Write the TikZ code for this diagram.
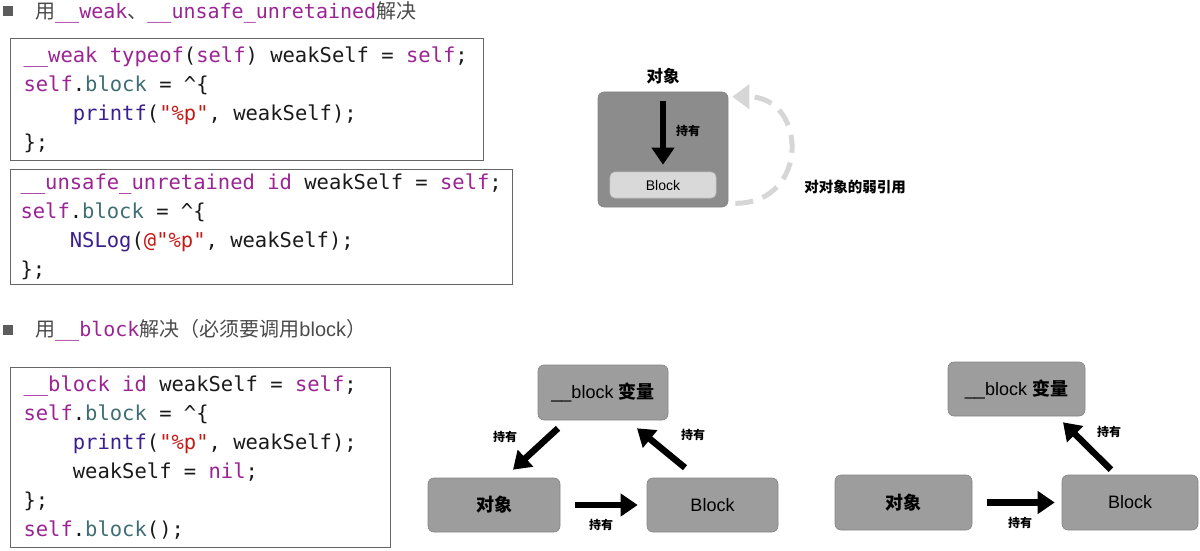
\documentclass[tikz,border=0pt]{standalone}
\usepackage{fontspec}
\setmainfont{Liberation Sans}
\setmonofont{DejaVu Sans Mono}
\newfontfamily\cjk{Noto Sans CJK SC}
\usepackage{xcolor}
\usetikzlibrary{arrows.meta,positioning}
\definecolor{kwpurple}{HTML}{9B2393}
\definecolor{prjteal}{HTML}{3E6D74}
\definecolor{fnindigo}{HTML}{3A1F8E}
\definecolor{strred}{HTML}{C41A16}
\definecolor{plain}{HTML}{1A1A1A}
\definecolor{hdrgray}{HTML}{4A4A4A}
\definecolor{boxgray}{HTML}{9D9D9D}
\definecolor{objgray}{HTML}{8C8C8C}
\definecolor{blkgray}{HTML}{D9D9D9}
\definecolor{weakgray}{HTML}{D6D6D6}
\newcommand\kw[1]{\textcolor{kwpurple}{#1}}
\newcommand\prj[1]{\textcolor{prjteal}{#1}}
\newcommand\cfn[1]{\textcolor{fnindigo}{#1}}
\newcommand\cstr[1]{\textcolor{strred}{#1}}
\newcommand\ind{\phantom{xxxx}}
\newcommand\codefont{\ttfamily\fontsize{20.5}{29}\selectfont}

\begin{document}
\begin{tikzpicture}[x=1pt,y=-1pt,
  every node/.style={inner sep=0pt},
  head/.style={anchor=west,text=hdrgray,font=\fontsize{20}{24}\selectfont},
  bullet/.style={fill=hdrgray!90,minimum size=10pt},
  codebox/.style={draw=black!60,line width=1pt,anchor=north west,align=left,inner xsep=13pt,text=plain,font=\codefont,
    execute at begin node={\spaceskip=0.602em\relax\xspaceskip=0.602em\relax}},
  dbox/.style={fill=boxgray,draw=boxgray!85!black,line width=0.6pt,rounded corners=6pt,font=\fontsize{18}{20}\selectfont},
  cn/.style={font=\cjk\bfseries\fontsize{#1}{#1}\selectfont},
  hold/.style={line width=6.5pt,-{Triangle[length=17pt,width=22pt]}},
  weak/.style={draw=weakgray,line width=5pt,dash pattern=on 18pt off 10pt,-{Triangle[length=17pt,width=24pt,fill=weakgray]}}]
\useasboundingbox (0,0) rectangle (1200,551);

% headers
\node[bullet] (b1) at (8,11.5) {};
\node[head] (h1) at (35,12) {{\cjk 用}\kw{\ttfamily\_\_weak}{\cjk 、}\kw{\ttfamily\_\_unsafe\_unretained}{\cjk 解决}};
\node[bullet] (b2) at (8,329.5) {};
\node[head] (h2) at (35,330) {{\cjk 用}\kw{\ttfamily\_\_block}{\cjk 解决（必须要调用}block{\cjk ）}};

% code
\node[codebox,text width=447pt,minimum height=122pt] (code1) at (10,38) {%
\kw{\_\_weak typeof}(\kw{self}) weakSelf = \kw{self};\\
\kw{self}.\prj{block} = \textasciicircum\{\\
\ind\cfn{printf}(\cstr{"\%p"}, weakSelf);\\
\};};
\node[codebox,inner xsep=10pt,text width=482pt,minimum height=115pt] (code2) at (10,169) {%
\kw{\_\_unsafe\_unretained id} weakSelf = \kw{self};\\
\kw{self}.\prj{block} = \textasciicircum\{\\
\ind\cfn{NSLog}(\cstr{@"\%p"}, weakSelf);\\
\};};
\node[codebox,text width=354pt,minimum height=180pt] (code3) at (10,367) {%
\kw{\_\_block id} weakSelf = \kw{self};\\
\kw{self}.\prj{block} = \textasciicircum\{\\
\ind\cfn{printf}(\cstr{"\%p"}, weakSelf);\\
\ind weakSelf = \kw{nil};\\
\};\\
\kw{self}.\prj{block}();};

% weak reference
\node[dbox,fill=objgray,minimum width=130pt,minimum height=115pt] (obj1) at (663,149.5) {};
\node[cn=16.5,above=7pt of obj1] (obj1lbl) {对象};
\node[dbox,fill=blkgray,draw=blkgray!90!black,rounded corners=5pt,minimum width=106pt,minimum height=26pt,font=\fontsize{14}{16}\selectfont] (blk1) at (663,185) {Block};
\draw[hold] ([yshift=-9]obj1.north) -- ([yshift=7]blk1.north);
\node[cn=12] (hold1) at (688,131) {持有};
\draw[weak] ([shift={(7,-4)}]obj1.south east) .. controls +(75,0) and +(75,0) .. ([shift={(4,5)}]obj1.north east);
\node[cn=14.5] (weak1) at (855,187) {对对象的弱引用};

% __block, before call
\node[dbox,minimum width=130pt,minimum height=55pt] (var2) at (603,392.5) {\_\_block {\cjk\bfseries 变量}};
\node[dbox,minimum width=132pt,minimum height=54pt] (obj2) at (494,505) {\cjk\bfseries 对象};
\node[dbox,minimum width=131pt,minimum height=54pt] (blk2) at (712.5,505) {Block};
\draw[hold] ([shift={(-45,8)}]var2.south) -- ([shift={(19,-8)}]obj2.north);
\draw[hold] ([shift={(-27.5,-10)}]blk2.north) -- ([shift={(34,8)}]var2.south);
\draw[hold] ([xshift=15]obj2.east) -- ([xshift=-9]blk2.west);
\node[cn=12] (hold2a) at (505,437) {持有};
\node[cn=12] (hold2b) at (693,435) {持有};
\node[cn=12] (hold2c) at (601,525) {持有};

% __block, after call
\node[dbox,minimum width=137pt,minimum height=54pt] (var3) at (1016.5,389) {\_\_block {\cjk\bfseries 变量}};
\node[dbox,minimum width=137pt,minimum height=55pt] (obj3) at (903.5,502.5) {\cjk\bfseries 对象};
\node[dbox,minimum width=136pt,minimum height=55pt] (blk3) at (1130,502.5) {Block};
\draw[hold] ([shift={(-19,-5)}]blk3.north) -- ([shift={(46.5,6)}]var3.south);
\draw[hold] ([xshift=15]obj3.east) -- ([xshift=-7]blk3.west);
\node[cn=12] (hold3a) at (1109,432) {持有};
\node[cn=12] (hold3b) at (1020,523) {持有};
\end{tikzpicture}
\end{document}
